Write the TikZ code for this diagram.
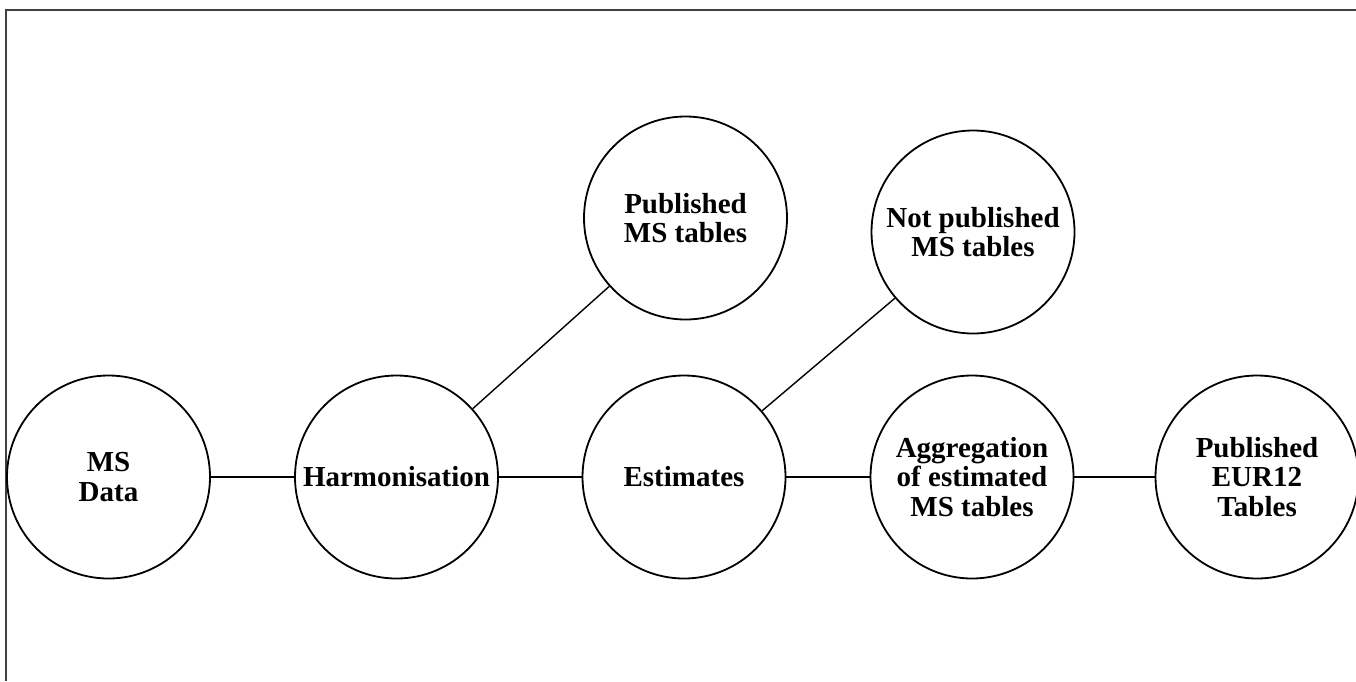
\documentclass[tikz,border=0pt]{standalone}
\usepackage{fontspec}
\setmainfont{Liberation Serif}
\begin{document}
\begin{tikzpicture}[x=1pt,y=-1pt,
  bubble/.style={circle,draw,line width=1.8pt,minimum size=203pt,inner sep=0pt,
    align=center,font=\fontsize{29}{29.5}\selectfont\bfseries},
  link/.style={line width=1.4pt},
  frameline/.style={line width=1.6pt,draw=black!75}]
\useasboundingbox (0,0) rectangle (1356,681);
\coordinate (ftl) at (6,10);
\coordinate (ftr) at (1356,10);
\coordinate (fbl) at (6,681);
\draw[frameline] (fbl) -- (ftl) -- (ftr);
\node[bubble] (msd) at (108.5,477) {MS\\Data};
\node[bubble] (har) at (396.5,477) {Harmonisation};
\node[bubble] (est) at (684,477) {Estimates};
\node[bubble] (agg) at (972,477) {Aggregation\\of estimated\\MS tables};
\node[bubble] (eur) at (1257,477) {Published\\EUR12\\Tables};
\node[bubble] (pub) at (685.5,218) {Published\\MS tables};
\node[bubble] (npub) at (973,232) {Not published\\MS tables};
\draw[link] (msd) -- (har);
\draw[link] (har) -- (est);
\draw[link] (est) -- (agg);
\draw[link] (agg) -- (eur);
\draw[link] (har) -- (pub);
\draw[link] (est) -- (npub);
\end{tikzpicture}
\end{document}
